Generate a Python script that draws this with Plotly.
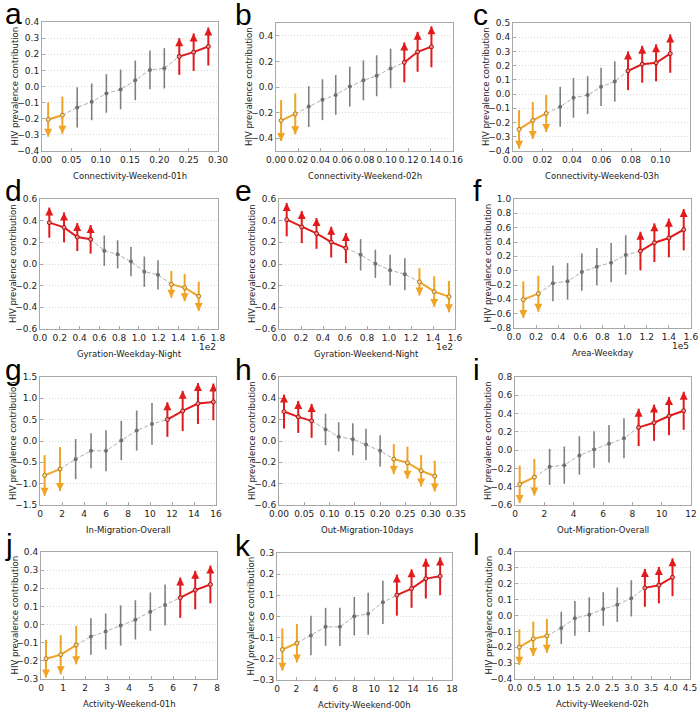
import plotly.graph_objects as go
import numpy as np

W, H = 700, 713

# ---------------- data ----------------
a_x = [0.0105, 0.0347, 0.060, 0.0847, 0.1097, 0.134, 0.159, 0.184, 0.2085, 0.234, 0.2585, 0.2835]
a_y = [-0.205, -0.178, -0.130, -0.095, -0.043, -0.018, 0.038, 0.103, 0.113, 0.186, 0.213, 0.248]
a_err = [0.106, 0.115, 0.125, 0.114, 0.12, 0.123, 0.123, 0.12, 0.125, 0.114, 0.116, 0.118]
a_grp = ['o', 'o', 'g', 'g', 'g', 'g', 'g', 'g', 'g', 'r', 'r', 'r']

b_x = [0.0046, 0.0174, 0.0296, 0.042, 0.054, 0.0667, 0.079, 0.091, 0.1036, 0.116, 0.128, 0.1405]
b_y = [-0.262, -0.210, -0.153, -0.099, -0.062, 0.003, 0.052, 0.088, 0.145, 0.192, 0.275, 0.314]
b_err = [0.16, 0.16, 0.16, 0.16, 0.155, 0.155, 0.156, 0.16, 0.155, 0.156, 0.156, 0.16]
b_grp = ['o', 'o', 'g', 'g', 'g', 'g', 'g', 'g', 'g', 'r', 'r', 'r']

c_x = [0.0041, 0.0134, 0.0225, 0.032, 0.041, 0.0506, 0.0597, 0.069, 0.078, 0.0876, 0.097, 0.1066]
c_y = [-0.248, -0.185, -0.136, -0.089, -0.026, -0.007, 0.051, 0.089, 0.164, 0.21, 0.22, 0.285]
c_err = [0.136, 0.13, 0.13, 0.14, 0.14, 0.133, 0.134, 0.142, 0.136, 0.13, 0.13, 0.135]
c_grp = ['o', 'o', 'o', 'g', 'g', 'g', 'g', 'g', 'r', 'r', 'r', 'r']

d_x = [0.094, 0.243, 0.377, 0.512, 0.65, 0.785, 0.92, 1.055, 1.193, 1.328, 1.463, 1.605]
d_y = [0.382, 0.338, 0.249, 0.228, 0.123, 0.089, 0.022, -0.071, -0.10, -0.188, -0.218, -0.298]
d_err = [0.139, 0.138, 0.129, 0.132, 0.14, 0.13, 0.135, 0.14, 0.135, 0.123, 0.126, 0.135]
d_grp = ['r', 'r', 'r', 'r', 'g', 'g', 'g', 'g', 'g', 'o', 'o', 'o']

e_x = [0.07, 0.207, 0.341, 0.4745, 0.608, 0.742, 0.876, 1.01, 1.144, 1.277, 1.411, 1.545]
e_y = [0.409, 0.341, 0.282, 0.202, 0.147, 0.085, 0.002, -0.057, -0.094, -0.165, -0.255, -0.301]
e_err = [0.154, 0.148, 0.142, 0.142, 0.139, 0.145, 0.13, 0.142, 0.148, 0.126, 0.142, 0.145]
e_grp = ['r', 'r', 'r', 'r', 'r', 'g', 'g', 'g', 'g', 'o', 'o', 'o']

f_x = [0.084, 0.22, 0.352, 0.484, 0.613, 0.749, 0.878, 1.01, 1.143, 1.269, 1.40, 1.534]
f_y = [-0.405, -0.321, -0.177, -0.149, -0.019, 0.056, 0.112, 0.219, 0.274, 0.39, 0.456, 0.572]
f_err = [0.256, 0.251, 0.25, 0.255, 0.26, 0.26, 0.275, 0.275, 0.269, 0.27, 0.27, 0.288]
f_grp = ['o', 'o', 'g', 'g', 'g', 'g', 'g', 'g', 'r', 'r', 'r', 'r']

g_x = [0.42, 1.82, 3.24, 4.64, 6.0, 7.39, 8.79, 10.18, 11.58, 12.97, 14.36, 15.76]
g_y = [-0.807, -0.658, -0.425, -0.23, -0.23, 0.012, 0.245, 0.40, 0.503, 0.705, 0.877, 0.916]
g_err = [0.476, 0.514, 0.47, 0.41, 0.48, 0.46, 0.47, 0.49, 0.406, 0.47, 0.48, 0.43]
g_grp = ['o', 'o', 'g', 'g', 'g', 'g', 'g', 'g', 'r', 'r', 'r', 'r']

h_x = [0.0099, 0.038, 0.0645, 0.092, 0.118, 0.146, 0.172, 0.20, 0.227, 0.254, 0.281, 0.308]
h_y = [0.276, 0.226, 0.189, 0.108, 0.039, 0.017, -0.033, -0.092, -0.17, -0.204, -0.279, -0.329]
h_err = [0.159, 0.15, 0.159, 0.148, 0.137, 0.15, 0.147, 0.147, 0.14, 0.15, 0.147, 0.144]
h_grp = ['r', 'r', 'r', 'g', 'g', 'g', 'g', 'g', 'o', 'o', 'o', 'o']

i_x = [0.32, 1.32, 2.36, 3.36, 4.39, 5.39, 6.41, 7.43, 8.43, 9.48, 10.5, 11.5]
i_y = [-0.373, -0.296, -0.183, -0.164, -0.058, 0.007, 0.069, 0.13, 0.249, 0.30, 0.373, 0.431]
i_err = [0.205, 0.2, 0.197, 0.204, 0.21, 0.2, 0.205, 0.22, 0.205, 0.198, 0.209, 0.208]
i_grp = ['o', 'o', 'g', 'g', 'g', 'g', 'g', 'g', 'r', 'r', 'r', 'r']

j_x = [0.228, 0.897, 1.6, 2.27, 2.94, 3.62, 4.29, 4.97, 5.64, 6.33, 7.01, 7.70]
j_y = [-0.188, -0.166, -0.113, -0.066, -0.038, -0.005, 0.026, 0.071, 0.108, 0.148, 0.19, 0.221]
j_err = [0.104, 0.108, 0.106, 0.101, 0.099, 0.111, 0.108, 0.106, 0.113, 0.111, 0.106, 0.104]
j_grp = ['o', 'o', 'o', 'g', 'g', 'g', 'g', 'g', 'g', 'r', 'r', 'r']

k_x = [0.55, 2.05, 3.49, 5.0, 6.47, 7.95, 9.38, 10.89, 12.33, 13.84, 15.31, 16.78]
k_y = [-0.156, -0.126, -0.09, -0.049, -0.049, 0.001, 0.013, 0.067, 0.101, 0.132, 0.179, 0.19]
k_err = [0.1, 0.091, 0.093, 0.09, 0.09, 0.091, 0.099, 0.102, 0.097, 0.091, 0.094, 0.089]
k_grp = ['o', 'o', 'g', 'g', 'g', 'g', 'g', 'g', 'r', 'r', 'r', 'r']

l_x = [0.111, 0.47, 0.82, 1.19, 1.54, 1.91, 2.27, 2.63, 2.99, 3.34, 3.70, 4.05]
l_y = [-0.199, -0.147, -0.128, -0.078, -0.018, 0.005, 0.041, 0.068, 0.108, 0.174, 0.191, 0.241]
l_err = [0.112, 0.108, 0.106, 0.102, 0.109, 0.11, 0.106, 0.108, 0.114, 0.119, 0.115, 0.119]
l_grp = ['o', 'o', 'o', 'g', 'g', 'g', 'g', 'g', 'g', 'r', 'r', 'r']

letters = ['a', 'b', 'c', 'd', 'e', 'f', 'g', 'h', 'i', 'j', 'k', 'l']
x_titles = ['Connectivity-Weekend-01h', 'Connectivity-Weekend-02h', 'Connectivity-Weekend-03h',
            'Gyration-Weekday-Night', 'Gyration-Weekend-Night', 'Area-Weekday',
            'In-Migration-Overall', 'Out-Migration-10days', 'Out-Migration-Overall',
            'Activity-Weekend-01h', 'Activity-Weekend-00h', 'Activity-Weekend-02h']
y_title = 'HIV prevalence contribution'

# axis ranges / ticks  (min, max, step, decimals)
x_axes = [(0, 0.30, 0.05, 2), (0, 0.16, 0.02, 2), (0, 0.12, 0.02, 2),
          (0, 1.8, 0.2, 1), (0, 1.6, 0.2, 1), (0, 1.6, 0.2, 1),
          (0, 16, 2, 0), (0, 0.35, 0.05, 2), (0, 12, 2, 0),
          (0, 8, 1, 0), (0, 18, 2, 0), (0, 4.5, 0.5, 1)]
y_axes = [(-0.4, 0.4, 0.1, 1), (-0.4, 0.4, 0.2, 1), (-0.4, 0.5, 0.1, 1),
          (-0.6, 0.6, 0.2, 1), (-0.6, 0.6, 0.2, 1), (-0.8, 1.0, 0.2, 1),
          (-1.5, 1.5, 0.5, 1), (-0.6, 0.6, 0.2, 1), (-0.6, 0.8, 0.2, 1),
          (-0.3, 0.4, 0.1, 1), (-0.3, 0.3, 0.1, 1), (-0.4, 0.4, 0.1, 1)]
y_limits = [(-0.4, 0.4), (-0.5, 0.5), (-0.4, 0.5),
            (-0.6, 0.6), (-0.6, 0.6), (-0.8, 1.0),
            (-1.5, 1.5), (-0.6, 0.6), (-0.6, 0.8),
            (-0.3, 0.4), (-0.3, 0.3), (-0.4, 0.4)]
x_offsets = ['', '', '', '1e2', '1e2', '1e5', '', '', '', '', '', '']

panels = [(a_x, a_y, a_err, a_grp), (b_x, b_y, b_err, b_grp), (c_x, c_y, c_err, c_grp),
          (d_x, d_y, d_err, d_grp), (e_x, e_y, e_err, e_grp), (f_x, f_y, f_err, f_grp),
          (g_x, g_y, g_err, g_grp), (h_x, h_y, h_err, h_grp), (i_x, i_y, i_err, i_grp),
          (j_x, j_y, j_err, j_grp), (k_x, k_y, k_err, k_grp), (l_x, l_y, l_err, l_grp)]

# ---------------- layout geometry (pixels: left, right, top, bottom) ----------------
boxes = [(42, 218, 22, 151), (276, 453, 23, 151), (513, 690, 23, 151),
         (40, 218, 199, 329), (279, 455, 199, 329), (514, 691, 199, 328),
         (40, 216, 377, 505), (279, 456, 377, 505), (515, 691, 377, 505),
         (41, 217, 552, 679), (277, 452, 553, 680), (515, 690, 552, 679)]

ORANGE = '#f0a425'
RED = '#e31a1c'
GRAY = '#808080'
GRAYLINE = '#b0b0b0'
TICKFONT = dict(family='DejaVu Sans', size=9, color='#222')
TITLEFONT = dict(family='DejaVu Sans', size=8.5, color='#222')


def px(v):
    return v / W


def py(v):
    return 1 - v / H


def fmt(v, d):
    s = f'{v:.{d}f}'
    if abs(v) < 1e-9:
        s = f'{0:.{d}f}'
    return s.replace('-', '\u2212')


fig = go.Figure()
layout = dict(width=W, height=H, margin=dict(l=0, r=0, t=0, b=0, autoexpand=False),
              paper_bgcolor='white', plot_bgcolor='white', showlegend=False)
annotations = []

for p, (xs, ys, es, gs) in enumerate(panels):
    n = p + 1
    xa = 'x' if n == 1 else f'x{n}'
    ya = 'y' if n == 1 else f'y{n}'
    xs = np.array(xs); ys = np.array(ys); es = np.array(es); gs = np.array(gs)
    gi = np.where(gs == 'g')[0]
    oi = np.where(gs == 'o')[0]
    ri = np.where(gs == 'r')[0]

    # dashed connector through gray points
    lo, hi = gi.min() - 1, gi.max() + 1
    fig.add_trace(go.Scatter(x=xs[lo:hi + 1], y=ys[lo:hi + 1], mode='lines',
                             line=dict(color=GRAYLINE, width=1, dash='4px,2px'),
                             xaxis=xa, yaxis=ya, hoverinfo='skip'))
    # gray points with error bars
    fig.add_trace(go.Scatter(x=xs[gi], y=ys[gi], mode='markers',
                             marker=dict(color='#707070', size=4),
                             error_y=dict(type='data', array=es[gi], width=0,
                                          thickness=1.6, color=GRAY),
                             xaxis=xa, yaxis=ya))
    # orange (lower-limit) group
    fig.add_trace(go.Scatter(x=xs[oi], y=ys[oi], mode='lines+markers',
                             line=dict(color=ORANGE, width=2),
                             marker=dict(color='#f8d9a0', size=4, line=dict(color='#b07818', width=1)),
                             error_y=dict(type='data', array=es[oi], width=0,
                                          thickness=2, color=ORANGE),
                             xaxis=xa, yaxis=ya))
    fig.add_trace(go.Scatter(x=xs[oi], y=ys[oi] - es[oi], mode='markers',
                             marker=dict(symbol='arrow-down', size=8, color=ORANGE,
                                         line=dict(width=0)),
                             xaxis=xa, yaxis=ya))
    # red (upper) group
    fig.add_trace(go.Scatter(x=xs[ri], y=ys[ri], mode='lines+markers',
                             line=dict(color=RED, width=2),
                             marker=dict(color='#f09090', size=4, line=dict(color='#a01010', width=1)),
                             error_y=dict(type='data', array=es[ri], width=0,
                                          thickness=2, color=RED),
                             xaxis=xa, yaxis=ya))
    fig.add_trace(go.Scatter(x=xs[ri], y=ys[ri] + es[ri], mode='markers',
                             marker=dict(symbol='arrow-up', size=8, color=RED,
                                         line=dict(width=0)),
                             xaxis=xa, yaxis=ya))

    L, R, T, B = boxes[p]
    x0, x1, xs_step, xd = x_axes[p]
    y0, y1, ys_step, yd = y_axes[p]
    xt = np.round(np.arange(x0, x1 + xs_step / 2, xs_step), 6)
    yt = np.round(np.arange(y0, y1 + ys_step / 2, ys_step), 6)
    common = dict(showline=True, linecolor='#a8a8a8', linewidth=1, mirror=True,
                  ticks='inside', ticklen=3, tickcolor='#a8a8a8', zeroline=False,
                  tickfont=TICKFONT, automargin=False, tickangle=0)
    xkey = 'xaxis' if n == 1 else f'xaxis{n}'
    ykey = 'yaxis' if n == 1 else f'yaxis{n}'
    layout[xkey] = dict(common, domain=[px(L), px(R)], anchor=ya, range=[x0, x1],
                        tickvals=list(xt), ticktext=[fmt(v, xd) for v in xt],
                        showgrid=False)
    yl0, yl1 = y_limits[p]
    layout[ykey] = dict(common, domain=[py(B), py(T)], anchor=xa, range=[yl0, yl1],
                        tickvals=list(yt), ticktext=[fmt(v, yd) for v in yt],
                        showgrid=True, gridcolor='#d8d8d8', griddash='1px,2px', gridwidth=1)
    # axis titles
    annotations.append(dict(text=x_titles[p], xref='paper', yref='paper',
                            x=px((L + R) / 2), y=py(B + 25), xanchor='center', yanchor='middle',
                            showarrow=False, font=TITLEFONT))
    annotations.append(dict(text=y_title, xref='paper', yref='paper', textangle=-90,
                            x=px(L - 27), y=py((T + B) / 2), xanchor='center', yanchor='middle',
                            showarrow=False, font=TITLEFONT))
    # panel letter
    col = p % 3
    lx = [3, 233, 471][col]
    annotations.append(dict(text=letters[p], xref='paper', yref='paper',
                            x=px(lx), y=py(T - 8), xanchor='left', yanchor='middle',
                            showarrow=False, font=dict(family='Liberation Sans', size=30, color='black')))
    if x_offsets[p]:
        annotations.append(dict(text=x_offsets[p], xref='paper', yref='paper',
                                x=px(R), y=py(B + 18), xanchor='right', yanchor='middle',
                                showarrow=False, font=TICKFONT))

layout['annotations'] = annotations
fig.update_layout(**layout)
# remove the default page margin so the 700x713 figure fills the window exactly
fig.write_html('out.html', config={'displayModeBar': False},
               post_script="document.body.style.margin='0px';")
